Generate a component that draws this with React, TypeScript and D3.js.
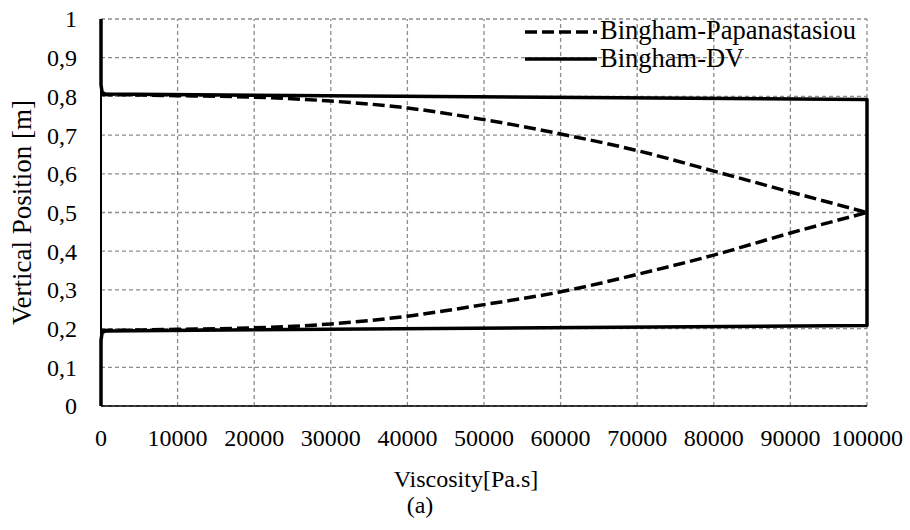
import React from "react";
import * as d3 from "d3";

const xTicks = [0, 10000, 20000, 30000, 40000, 50000, 60000, 70000, 80000, 90000, 100000];
const yTicks = [0, 0.1, 0.2, 0.3, 0.4, 0.5, 0.6, 0.7, 0.8, 0.9, 1];

// Bingham-DV (solid)
const dvViscosity = [0, 0, 150, 600, 100000, 100000, 600, 150, 0, 0];
const dvPosition = [0, 0.17, 0.19, 0.194, 0.208, 0.792, 0.806, 0.81, 0.83, 1];

// Bingham-Papanastasiou (dashed), upper and lower branches
const papViscosity = [0, 10000, 20000, 30000, 40000, 50000, 60000, 70000, 80000, 90000, 100000];
const papUpper = [0.805, 0.802, 0.798, 0.788, 0.77, 0.74, 0.703, 0.66, 0.607, 0.553, 0.5];
const papLower = [0.195, 0.198, 0.202, 0.212, 0.232, 0.262, 0.295, 0.34, 0.39, 0.447, 0.5];

const legendLabels = ["Bingham-Papanastasiou", "Bingham-DV"];

const W = 910;
const H = 530;
const FONT = '"Liberation Serif", "Times New Roman", "DejaVu Serif", serif';

export default function App() {
  const x = d3.scaleLinear().domain([0, 100000]).range([101, 867]);
  const y = d3.scaleLinear().domain([0, 1]).range([406, 19]);

  const line = d3
    .line<[number, number]>()
    .x((d) => x(d[0]))
    .y((d) => y(d[1]));
  const smooth = d3
    .line<[number, number]>()
    .x((d) => x(d[0]))
    .y((d) => y(d[1]))
    .curve(d3.curveMonotoneX);

  const dvPts = dvViscosity.map((v, i) => [v, dvPosition[i]] as [number, number]);
  const upPts = papViscosity.map((v, i) => [v, papUpper[i]] as [number, number]);
  const loPts = papViscosity.map((v, i) => [v, papLower[i]] as [number, number]);

  const fmtY = (d: number) => (d === 0 ? "0" : d === 1 ? "1" : d.toFixed(1).replace(".", ","));
  const ts = { fontFamily: FONT, fontSize: 24 } as React.CSSProperties;
  const lg = { fontFamily: FONT, fontSize: 26.5 } as React.CSSProperties;
  const yt = { fontFamily: FONT, fontSize: 27 } as React.CSSProperties;

  return (
    <svg
      width={W}
      height={H}
      style={{ position: "absolute", left: 0, top: 0, background: "#fff" }}
    >
      <rect x={0} y={0} width={W} height={H} fill="#fff" />
      {/* grid */}
      {xTicks.map((t) => (
        <line
          key={"gx" + t}
          x1={x(t)}
          x2={x(t)}
          y1={y(0)}
          y2={y(1)}
          stroke="#8c8c8c"
          strokeWidth={1.3}
          strokeDasharray="4,3"
        />
      ))}
      {yTicks.map((t) => (
        <line
          key={"gy" + t}
          x1={x(0)}
          x2={x(100000)}
          y1={y(t)}
          y2={y(t)}
          stroke="#8c8c8c"
          strokeWidth={1.3}
          strokeDasharray="4,3"
        />
      ))}
      {/* axes */}
      <line x1={x(0)} x2={x(0)} y1={y(0)} y2={y(1)} stroke="#000" strokeWidth={2} />
      <line x1={x(0)} x2={x(100000)} y1={y(0)} y2={y(0)} stroke="#000" strokeWidth={1.6} />

      {/* series */}
      <path d={smooth(upPts) || ""} fill="none" stroke="#000" strokeWidth={3.5} strokeDasharray="12,5" />
      <path d={smooth(loPts) || ""} fill="none" stroke="#000" strokeWidth={3.5} strokeDasharray="12,5" />
      <path d={line(dvPts) || ""} fill="none" stroke="#000" strokeWidth={3.5} strokeLinejoin="round" />

      {/* tick labels */}
      {yTicks.map((t) => (
        <text key={"ty" + t} x={77} y={y(t)} dy="0.35em" textAnchor="end" style={ts} fill="#000">
          {fmtY(t)}
        </text>
      ))}
      {xTicks.map((t) => (
        <text key={"tx" + t} x={x(t)} y={446} textAnchor="middle" style={ts} fill="#000">
          {t}
        </text>
      ))}

      {/* titles */}
      <text x={466} y={487} textAnchor="middle" style={ts} fill="#000">
        Viscosity[Pa.s]
      </text>
      <text x={420} y={513} textAnchor="middle" style={ts} fill="#000">
        (a)
      </text>
      <text
        transform={`translate(31, ${(y(0) + y(1)) / 2}) rotate(-90)`}
        textAnchor="middle"
        style={yt}
        fill="#000"
      >
        Vertical Position [m]
      </text>

      {/* legend */}
      <line x1={525} x2={597} y1={32} y2={32} stroke="#000" strokeWidth={3.5} strokeDasharray="12,5" />
      <text x={600} y={39} style={lg} fill="#000">
        {legendLabels[0]}
      </text>
      <line x1={525} x2={597} y1={59} y2={59} stroke="#000" strokeWidth={3.5} />
      <text x={600} y={67} style={lg} fill="#000">
        {legendLabels[1]}
      </text>
    </svg>
  );
}
